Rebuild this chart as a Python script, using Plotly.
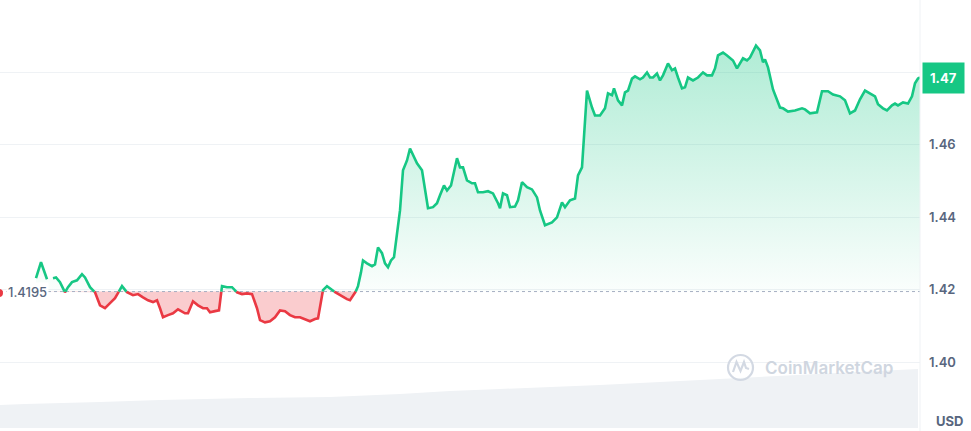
import plotly.graph_objects as go

# ---------------- data ----------------
time_pos = [36, 41, 47, 50, 53, 56, 60, 65, 68, 72, 77, 82, 85, 90, 95, 100, 105, 110, 115, 122,
            127, 133, 138, 143, 148, 153, 157, 160, 163, 168, 173, 178, 185, 188, 193, 198, 203, 207, 210, 215,
            219, 222, 227, 232, 237, 242, 247, 252, 257, 260, 265, 270, 275, 280, 285, 290, 295, 300, 305, 310,
            315, 318, 323, 327, 332, 337, 342, 347, 350, 355, 358, 361, 363, 367, 372, 375, 378, 382, 385, 388,
            391, 394, 397, 400, 403, 407, 410, 413, 417, 422, 425, 428, 433, 437, 440, 444, 447, 451, 457, 460,
            463, 467, 472, 475, 478, 483, 488, 493, 498, 500, 503, 507, 510, 515, 518, 522, 527, 532, 537, 540,
            545, 548, 552, 557, 562, 565, 570, 575, 578, 582, 585, 587, 592, 595, 600, 605, 608, 612, 614, 618,
            622, 625, 628, 632, 635, 640, 643, 647, 650, 653, 657, 660, 663, 668, 672, 675, 678, 682, 685, 688,
            693, 698, 703, 707, 712, 715, 718, 723, 727, 730, 733, 737, 743, 747, 750, 756, 760, 763, 765, 768,
            773, 780, 783, 788, 795, 802, 805, 810, 817, 822, 828, 833, 840, 845, 850, 855, 860, 865, 870, 875,
            878, 883, 887, 892, 895, 898, 903, 908, 912, 915, 918, 920]
price = [1.4232, 1.4276, 1.4229, None, 1.4232, 1.4234, 1.4221, 1.4193, 1.4207, 1.4221, 1.4226, 1.4243, 1.4234, 1.4207, 1.4193, 1.4157, 1.4149, 1.4163, 1.4177, 1.4210,
         1.4193, 1.4185, 1.4188, 1.4179, 1.4171, 1.4166, 1.4171, 1.4149, 1.4124, 1.4130, 1.4135, 1.4146, 1.4135, 1.4135, 1.4168, 1.4157, 1.4149, 1.4149, 1.4138, 1.4141,
         1.4143, 1.4210, 1.4207, 1.4207, 1.4193, 1.4188, 1.4190, 1.4188, 1.4149, 1.4116, 1.4110, 1.4113, 1.4124, 1.4143, 1.4141, 1.4130, 1.4124, 1.4124, 1.4119, 1.4113,
         1.4119, 1.4121, 1.4199, 1.4210, 1.4199, 1.4190, 1.4182, 1.4174, 1.4171, 1.4190, 1.4210, 1.4248, 1.4281, 1.4273, 1.4265, 1.4270, 1.4317, 1.4301, 1.4273, 1.4262,
         1.4281, 1.4290, 1.4356, 1.4419, 1.4530, 1.4557, 1.4590, 1.4571, 1.4549, 1.4530, 1.4474, 1.4425, 1.4428, 1.4439, 1.4461, 1.4488, 1.4474, 1.4488, 1.4563, 1.4538,
         1.4538, 1.4502, 1.4494, 1.4494, 1.4469, 1.4469, 1.4472, 1.4466, 1.4439, 1.4425, 1.4466, 1.4461, 1.4428, 1.4430, 1.4447, 1.4497, 1.4483, 1.4477, 1.4455, 1.4419,
         1.4378, 1.4381, 1.4386, 1.4400, 1.4441, 1.4428, 1.4447, 1.4452, 1.4516, 1.4538, 1.4654, 1.4750, 1.4703, 1.4681, 1.4681, 1.4701, 1.4742, 1.4737, 1.4756, 1.4723,
         1.4709, 1.4745, 1.4750, 1.4783, 1.4789, 1.4781, 1.4786, 1.4800, 1.4786, 1.4786, 1.4797, 1.4778, 1.4792, 1.4825, 1.4806, 1.4811, 1.4786, 1.4756, 1.4759, 1.4786,
         1.4778, 1.4786, 1.4800, 1.4792, 1.4792, 1.4811, 1.4847, 1.4855, 1.4847, 1.4839, 1.4833, 1.4811, 1.4839, 1.4833, 1.4841, 1.4874, 1.4861, 1.4828, 1.4836, 1.4814,
         1.4753, 1.4703, 1.4701, 1.4692, 1.4695, 1.4701, 1.4698, 1.4687, 1.4690, 1.4748, 1.4748, 1.4739, 1.4734, 1.4723, 1.4687, 1.4695, 1.4726, 1.4750, 1.4742, 1.4734,
         1.4712, 1.4701, 1.4695, 1.4709, 1.4714, 1.4709, 1.4717, 1.4714, 1.4734, 1.4770, 1.4783, 1.4786]
base_price = 1.4195
base_label = "1.4195"
last_label = "1.47"

volume_pos = [0, 25, 100, 160, 250, 330, 400, 450, 500, 600, 700, 800, 900, 918]
volume = [23, 24, 26, 28, 30, 31, 34, 37, 39, 43, 48, 53, 58, 59]

tick_vals = [1.40, 1.42, 1.44, 1.46, 1.48, 1.50]
tick_text = ["1.40", "1.42", "1.44", "1.46", "", ""]
currency = "USD"
watermark = "CoinMarketCap"

GREEN = "#16c784"
RED = "#ea3943"
GREY_TXT = "#58667e"

W, H = 971, 431
PLOT_W = 920


# ---------------- split line at baseline ----------------
def split_series(xs, ys, base):
    dense = []      # densified points for fills (no gaps)
    green = ([], [])
    red = ([], [])

    def add(arr, xa, ya, xb, yb):
        if arr[0] and arr[0][-1] == xa and arr[1][-1] == ya:
            arr[0].append(xb); arr[1].append(yb)
        else:
            if arr[0]:
                arr[0].append(None); arr[1].append(None)
            arr[0].extend([xa, xb]); arr[1].extend([ya, yb])

    pts = [(x, y) for x, y in zip(xs, ys)]
    for i in range(len(pts) - 1):
        x0, y0 = pts[i]
        x1, y1 = pts[i + 1]
        if y0 is None:
            continue
        if y1 is None:
            dense.append((x0, y0))
            continue
        if (y0 - base) * (y1 - base) < 0:
            xc = x0 + (base - y0) * (x1 - x0) / (y1 - y0)
            subs = [(x0, y0, xc, base), (xc, base, x1, y1)]
        else:
            subs = [(x0, y0, x1, y1)]
        for xa, ya, xb, yb in subs:
            dense.append((xa, ya))
            mid = (ya + yb) / 2
            add(green if mid >= base else red, xa, ya, xb, yb)
    dense.append(pts[-1])
    return dense, green, red


dense, green_line, red_line = split_series(time_pos, price, base_price)
dx = [p[0] for p in dense]
above = [max(p[1], base_price) for p in dense]
below = [min(p[1], base_price) for p in dense]

fig = go.Figure()

# volume area (secondary axis, bottom)
fig.add_trace(go.Scatter(x=volume_pos, y=volume, yaxis="y2", mode="lines",
                         line=dict(width=0, color="#eff2f5"), fill="tozeroy",
                         fillcolor="#eff2f5", hoverinfo="skip"))

# green fill
fig.add_trace(go.Scatter(x=dx, y=[base_price] * len(dx), mode="lines",
                         line=dict(width=0), hoverinfo="skip"))
fig.add_trace(go.Scatter(x=dx, y=above, mode="lines", line=dict(width=0),
                         fill="tonexty",
                         fillgradient=dict(type="vertical", start=base_price, stop=max(above),
                                           colorscale=[[0, "rgba(22,199,132,0.02)"],
                                                       [1, "rgba(22,199,132,0.34)"]]),
                         hoverinfo="skip"))
# red fill
fig.add_trace(go.Scatter(x=dx, y=[base_price] * len(dx), mode="lines",
                         line=dict(width=0), hoverinfo="skip"))
fig.add_trace(go.Scatter(x=dx, y=below, mode="lines", line=dict(width=0),
                         fill="tonexty", fillcolor="rgba(234,57,67,0.26)", hoverinfo="skip"))

# baseline dotted
fig.add_trace(go.Scatter(x=[0, PLOT_W], y=[base_price, base_price], mode="lines",
                         line=dict(color="#a6b0c3", width=1, dash="dot"), hoverinfo="skip"))

# lines
fig.add_trace(go.Scatter(x=red_line[0], y=red_line[1], mode="lines",
                         line=dict(color=RED, width=2.6), connectgaps=False, hoverinfo="skip"))
fig.add_trace(go.Scatter(x=green_line[0], y=green_line[1], mode="lines",
                         line=dict(color=GREEN, width=2.6), connectgaps=False, hoverinfo="skip"))


def px(x, y):
    return x / PLOT_W, 1 - y / H


shapes = []
# right separator
shapes.append(dict(type="line", xref="paper", yref="paper", x0=1, x1=1, y0=0, y1=1,
                   line=dict(color="#eff2f5", width=1)))
# watermark logo circle
cx0, cy0 = px(728, 355)
cx1, cy1 = px(753, 380)
shapes.append(dict(type="circle", xref="paper", yref="paper", x0=cx0, x1=cx1, y0=cy1, y1=cy0,
                   line=dict(color="#d3d9e3", width=2.2)))
m_pts = [px(733, 372), px(736.5, 362), px(740.5, 371), px(744, 362), px(746, 368), px(749, 369)]
path = "M " + " L ".join(f"{a},{b}" for a, b in m_pts)
shapes.append(dict(type="path", xref="paper", yref="paper", path=path,
                   line=dict(color="#d3d9e3", width=2.2)))
# red marker at the base label
dx0, dy0 = px(-5, 289)
dx1, dy1 = px(3, 297)
shapes.append(dict(type="circle", xref="paper", yref="paper", x0=dx0, x1=dx1, y0=dy1, y1=dy0,
                   fillcolor=RED, line=dict(width=0)))

annotations = [
    dict(text=f"<b>{last_label}</b>", xref="paper", yref="y", x=1, y=price[-1],
         xanchor="left", yanchor="middle", xshift=2, showarrow=False,
         bgcolor=GREEN, borderpad=7, font=dict(family="Inter", size=13, color="white")),
    dict(text=base_label, xref="paper", yref="y", x=6 / PLOT_W, y=base_price,
         xanchor="left", yanchor="middle", showarrow=False, bgcolor="white", borderpad=1,
         font=dict(family="Inter", size=13, color=GREY_TXT, weight=500)),
    dict(text=f"<b>{currency}</b>", xref="paper", yref="paper", x=950 / PLOT_W, y=1 - 421 / H,
         xanchor="center", yanchor="middle", showarrow=False,
         font=dict(family="Inter", size=13, color=GREY_TXT)),
    dict(text=watermark, xref="paper", yref="paper", x=763 / PLOT_W, y=1 - 368 / H,
         xanchor="left", yanchor="middle", showarrow=False,
         font=dict(family="Inter", size=17, color="#cfd6e0", weight=600)),
]

fig.update_layout(
    width=W, height=H,
    margin=dict(l=0, r=W - PLOT_W, t=0, b=0),
    paper_bgcolor="white", plot_bgcolor="white",
    showlegend=False, hovermode=False,
    xaxis=dict(range=[0, PLOT_W], visible=False, fixedrange=True),
    yaxis=dict(range=[1.3810, 1.5000], side="right", tickvals=tick_vals, ticktext=tick_text,
               showgrid=True, gridcolor="#eff2f5", gridwidth=1, zeroline=False, showline=False,
               ticks="", ticklabelstandoff=8,
               tickfont=dict(family="Inter", size=13, color=GREY_TXT, weight=600)),
    yaxis2=dict(range=[-3, 428], overlaying="y", visible=False),
    shapes=shapes,
    annotations=annotations,
)

fig.write_html("out.html", config={"displayModeBar": False},
               post_script="document.body.style.margin='0';document.body.style.overflow='hidden';")
